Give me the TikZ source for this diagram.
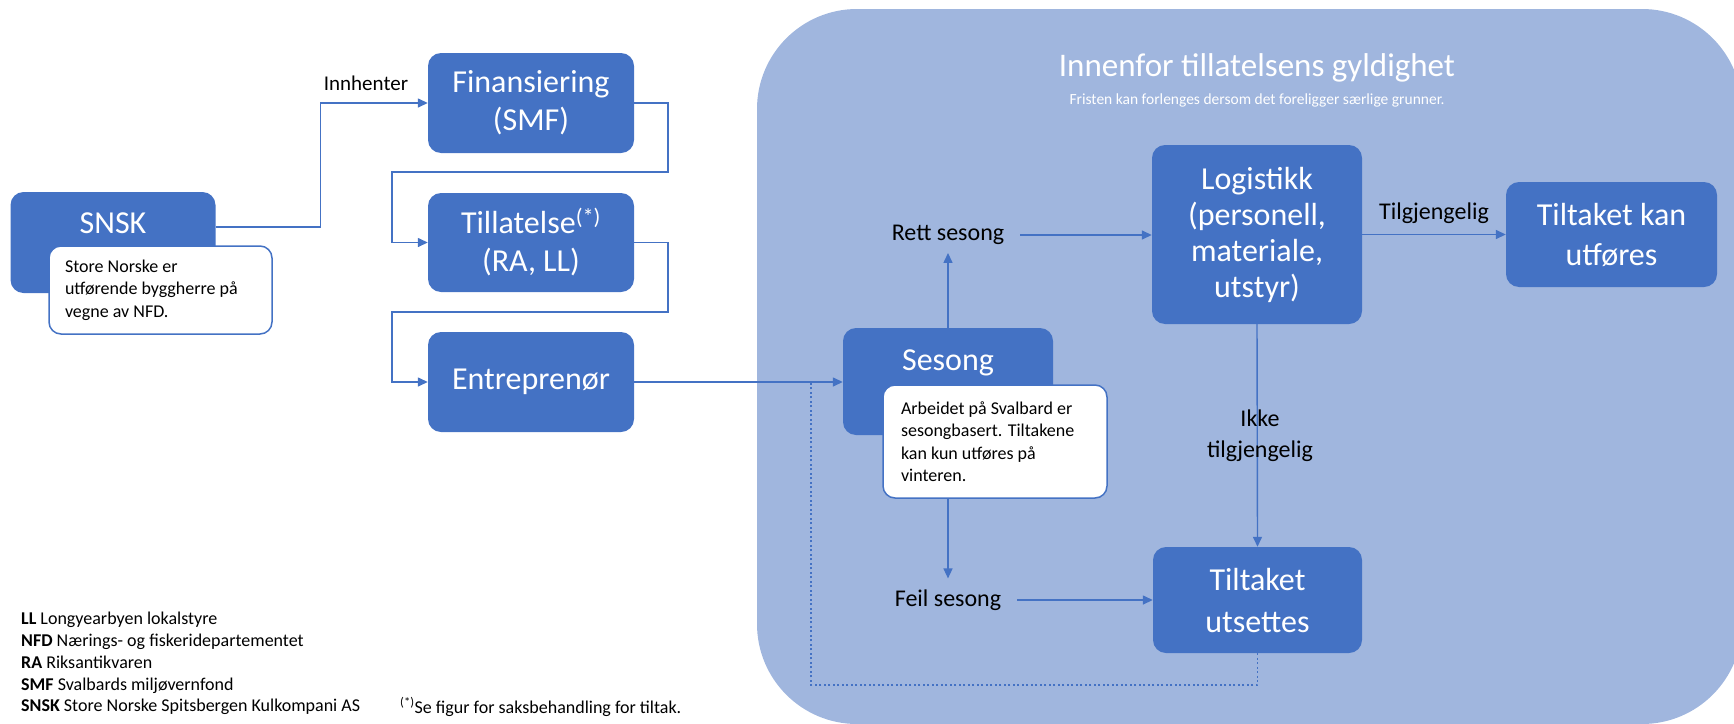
\documentclass[tikz,border=0pt]{standalone}
\usepackage{fontspec}
\setmainfont{Carlito}
\usetikzlibrary{arrows.meta,calc}
\definecolor{dblue}{HTML}{4472C4}
\definecolor{lblue}{HTML}{A0B6DE}
\newcommand{\fsz}[2]{\fontsize{#1}{#2}\selectfont}
\tikzset{
  box/.style={fill=dblue, draw=none, rounded corners=13pt, text=white, align=center, inner sep=0pt, font=\fsz{32}{38}},
  notebox/.style={fill=white, draw=dblue, line width=1.5pt, rounded corners=12pt, align=flush left, inner xsep=16pt, inner ysep=0pt, font=\fsz{18}{22.5}},
  lbl/.style={inner sep=2pt, text=black, font=\fsz{24}{31}, align=center},
  conn/.style={draw=dblue, line width=1.4pt, -{Triangle[length=10pt,width=9pt]}},
  dotline/.style={draw=dblue, line width=1.3pt, dash pattern=on 2pt off 2.5pt},
}
\begin{document}
\begin{tikzpicture}[x=1pt,y=-1pt]
\useasboundingbox (0,0) rectangle (1734,723);
% big background panel
\fill[lblue, rounded corners=100pt] (757,9) rectangle (1742,724);
\node[text=white, font=\fsz{33}{38}] (title) at (1257,68) {Innenfor tillatelsens gyldighet};
\node[text=white, font=\fsz{15.5}{18}] (subtitle) at (1257,100) {Fristen kan forlenges dersom det foreligger særlige grunner.};

% left column
\node[box, minimum width=205pt, minimum height=101pt] (snsk) at (113,242.5) {};
\node[text=white, font=\fsz{32}{38}] (snsktxt) at (113,223) {SNSK};
\node[notebox, text width=191pt, minimum height=88pt] (note1) at (160.5,290) {Store Norske er\\utførende byggherre på\\vegne av NFD.};

\node[box, minimum width=206pt, minimum height=100pt] (fin) at (531,103) {Finansiering\\(SMF)};
\node[box, minimum width=206pt, minimum height=99pt] (till) at (531,242.5) {Tillatelse\textsuperscript{(*)}\\(RA, LL)};
\node[box, minimum width=206pt, minimum height=100pt] (entr) at (531,382) {Entreprenør};

\node[lbl, font=\fsz{21}{25}] (innh) at (366,83) {Innhenter};

% right part
\node[box, minimum width=210pt, minimum height=107pt] (ses) at (948,381.5) {};
\node[text=white, font=\fsz{32}{38}] (sestxt) at (948,363) {Sesong};
\node[notebox, inner xsep=18pt, text width=188pt, minimum height=113pt] (note2) at (995,441.5) {Arbeidet på Svalbard er\\sesongbasert. Tiltakene\\kan kun utføres på\\vinteren.};

\node[box, minimum width=210pt, minimum height=179pt, font=\fsz{32}{36}] (logi) at (1257,234.5) {Logistikk\\(personell,\\materiale,\\utstyr)};
\node[box, minimum width=211pt, minimum height=105pt, font=\fsz{32}{40}] (kan) at (1611.5,234.5) {Tiltaket kan\\utføres};
\node[box, minimum width=209pt, minimum height=106pt, font=\fsz{32}{42}] (uts) at (1257.5,600) {Tiltaket\\utsettes};

\node[lbl] (rett) at (948,235) {Rett sesong};
\node[lbl] (feil) at (948,600) {Feil sesong};
\node[lbl] (tilg) at (1434,213) {Tilgjengelig};

% bend points
\coordinate (b1) at (668,172);
\coordinate (b2) at (392,172);
\coordinate (b3) at (668,312);
\coordinate (b4) at (392,312);
\coordinate (d1) at (811,685);
\coordinate (d2) at (811,382);

% connectors
\draw[conn] ([yshift=15.5pt]snsk.east) -- ++(105,0) |- (fin.west);
\draw[conn] (fin.east) -| (b1) -- (b2) |- (till.west);
\draw[conn] (till.east) -| (b3) -- (b4) |- (entr.west);
\draw[conn] (entr.east) -- (entr.east -| ses.west);
\draw[dotline] (uts.south) |- (d1) -- (d2);
\draw[conn, shorten >=6pt] (ses.north) -- (rett.south);
\draw[conn, shorten <=14pt] (rett.east) -- (rett.east -| logi.west);
\draw[conn] (logi.east) -- (logi.east -| kan.west);
\draw[conn] (logi.south) -- (uts.north);
\draw[conn, shorten >=9pt] (ses.center |- note2.south) -- (feil.north);
\draw[conn, shorten <=14pt] (feil.east) -- (feil.east -| uts.west);

\node[lbl] (ikke) at (1260,436) {Ikke\\tilgjengelig};

% legend
\node[anchor=west, align=left, font=\fsz{18}{21.8}, inner sep=0pt] (legend) at (21,663.5) {\textbf{LL} Longyearbyen lokalstyre\\\textbf{NFD} Nærings- og fiskeridepartementet\\\textbf{RA} Riksantikvaren\\\textbf{SMF} Svalbards miljøvernfond\\\textbf{SNSK} Store Norske Spitsbergen Kulkompani AS};
\node[anchor=west, font=\fsz{18}{22}, inner sep=0pt] (foot) at (400,707) {\textsuperscript{(*)}Se figur for saksbehandling for tiltak.};
\end{tikzpicture}
\end{document}
